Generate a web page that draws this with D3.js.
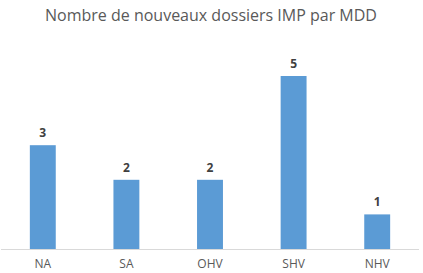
<!DOCTYPE html>
<html>
<head>
<meta charset="utf-8">
<script src="https://cdn.jsdelivr.net/npm/d3@7"></script>
<style>
  body { margin: 0; background: #fff; }
  text { font-family: "Open Sans", "Liberation Sans", sans-serif; }
</style>
</head>
<body>
<div id="chart"></div>
<script>
var categories = ["NA", "SA", "OHV", "SHV", "NHV"];
var values = [3, 2, 2, 5, 1];
var title = "Nombre de nouveaux dossiers IMP par MDD";

var width = 423, height = 273;
var baseY = 249;

var svg = d3.select('#chart')
    .append('svg')
    .attr('width', width)
    .attr('height', height);

var x = d3.scaleBand()
    .domain(categories)
    .range([1, 419])
    .paddingInner(0.69)
    .paddingOuter(0.345);

var y = d3.scaleLinear()
    .domain([0, 5])
    .range([baseY, 76]);

var data = categories.map(function(c, i) {
    return { cat: c, val: values[i] };
});

// title
svg.append('text')
    .attr('x', 211)
    .attr('y', 21)
    .attr('text-anchor', 'middle')
    .attr('fill', '#595959')
    .style('font-size', '16px')
    .text(title);

// bars
svg.selectAll('rect.bar')
    .data(data)
    .enter()
    .append('rect')
    .attr('class', 'bar')
    .attr('fill', '#5b9bd5')
    .attr('x', function(d) { return x(d.cat); })
    .attr('width', x.bandwidth())
    .attr('y', function(d) { return y(d.val); })
    .attr('height', function(d) { return y(0) - y(d.val); });

// value labels
svg.selectAll('text.val')
    .data(data)
    .enter()
    .append('text')
    .attr('class', 'val')
    .attr('x', function(d) { return x(d.cat) + x.bandwidth() / 2; })
    .attr('y', function(d) { return y(d.val) - 8; })
    .attr('text-anchor', 'middle')
    .attr('fill', '#404040')
    .style('font-size', '12px')
    .style('font-weight', 'bold')
    .text(function(d) { return d.val; });

// x axis
var axis = svg.append('g')
    .attr('transform', 'translate(0,' + baseY + ')')
    .call(d3.axisBottom(x).tickSize(0).tickPadding(10));

axis.select('.domain')
    .attr('stroke', '#d9d9d9')
    .attr('d', 'M1,0.5H419');

axis.selectAll('text')
    .attr('fill', '#595959')
    .style('font-size', '12px')
    .style('font-family', '"Open Sans", "Liberation Sans", sans-serif');
</script>
</body>
</html>
